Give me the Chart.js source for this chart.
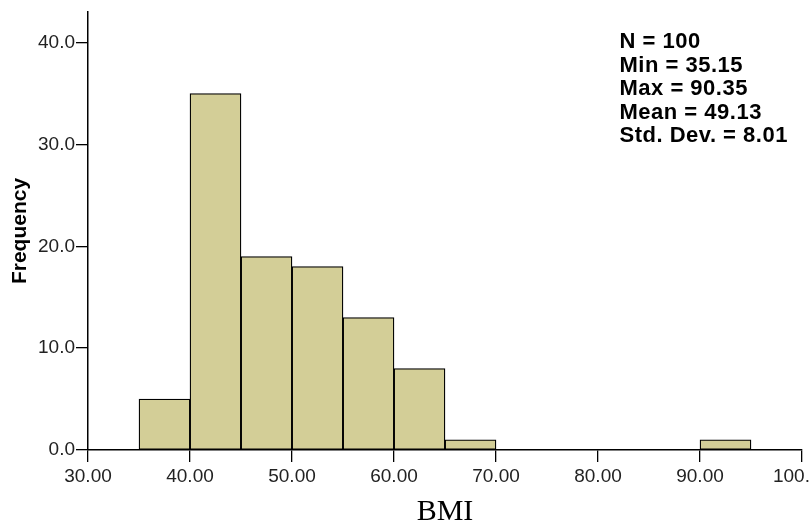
<!DOCTYPE html>
<html>
<head>
<meta charset="utf-8">
<script src="https://cdn.jsdelivr.net/npm/chart.js@4"></script>
<style>
  html, body { margin: 0; padding: 0; background: #fff; }
  #wrap { width: 810px; height: 529px; }
</style>
</head>
<body>
<div id="wrap"><canvas id="histo" width="810" height="529"></canvas></div>
<script>
// bin centres (bin width 5) and counts
const binCentres = [37.5, 42.5, 47.5, 52.5, 57.5, 62.5, 67.5, 72.5, 77.5, 82.5, 87.5, 92.5];
const counts = [5, 35, 19, 18, 13, 8, 1, 0, 0, 0, 0, 1];
const xTicks = [30, 40, 50, 60, 70, 80, 90, 100];
const yTicks = [0, 10, 20, 30, 40];
const statsLines = ['N = 100', 'Min = 35.15', 'Max = 90.35', 'Mean = 49.13', 'Std. Dev. = 8.01'];

const fillColour = '#d3ce97';
const sans = "'Liberation Sans', Arial, sans-serif";

const statsBox = {
    id: 'statsBox',
    afterDraw(chart) {
        const ctx = chart.ctx;
        ctx.save();
        ctx.fillStyle = '#000';
        ctx.font = 'bold 22px ' + sans;
        ctx.letterSpacing = '0.5px';
        ctx.textBaseline = 'alphabetic';
        statsLines.forEach((line, i) => {
            ctx.fillText(line, 619.5, 48 + i * 23.5);
        });
        ctx.restore();
    }
};

new Chart(document.getElementById('histo'), {
    type: 'bar',
    data: {
        datasets: [{
            data: binCentres.map((x, i) => ({ x: x, y: counts[i] })),
            backgroundColor: fillColour,
            borderColor: '#000',
            borderWidth: 1.3,
            borderSkipped: false,
            barPercentage: 1,
            categoryPercentage: 1
        }]
    },
    options: {
        responsive: false,
        animation: false,
        layout: { padding: { top: 12, right: 8, left: 0, bottom: 0 } },
        plugins: {
            legend: { display: false },
            tooltip: { enabled: false }
        },
        scales: {
            x: {
                type: 'linear',
                min: 30,
                max: 100,
                offset: false,
                afterBuildTicks: scale => { scale.ticks = xTicks.map(v => ({ value: v })); },
                afterFit: scale => { scale.height = 79; scale.paddingLeft = 0; scale.paddingRight = 0; },
                grid: { drawOnChartArea: false, offset: false, color: '#000', tickLength: 12, lineWidth: 1.3 },
                border: { color: '#000', width: 1.5 },
                ticks: {
                    color: '#222',
                    font: { family: sans, size: 19 },
                    padding: 3,
                    maxRotation: 0,
                    autoSkip: false,
                    callback: v => v.toFixed(2)
                },
                title: {
                    display: true,
                    text: 'BMI',
                    color: '#000',
                    font: { family: "'Liberation Serif', 'Times New Roman', serif", size: 30, lineHeight: 1 },
                    padding: { top: 0, bottom: 1.5 }
                }
            },
            y: {
                min: 0,
                max: 43,
                afterBuildTicks: scale => { scale.ticks = yTicks.map(v => ({ value: v })); },
                afterFit: scale => { scale.width = 88; scale.paddingTop = 0; },
                grid: { drawOnChartArea: false, color: '#000', tickLength: 12, lineWidth: 1.3 },
                border: { color: '#000', width: 1.5 },
                ticks: {
                    color: '#222',
                    font: { family: sans, size: 19 },
                    padding: 1,
                    callback: v => v.toFixed(1)
                },
                title: {
                    display: true,
                    text: 'Frequency',
                    color: '#000',
                    font: { family: sans, size: 21, weight: 'bold' },
                    padding: { top: 8, bottom: 0 }
                }
            }
        }
    },
    plugins: [statsBox]
});
</script>
</body>
</html>
